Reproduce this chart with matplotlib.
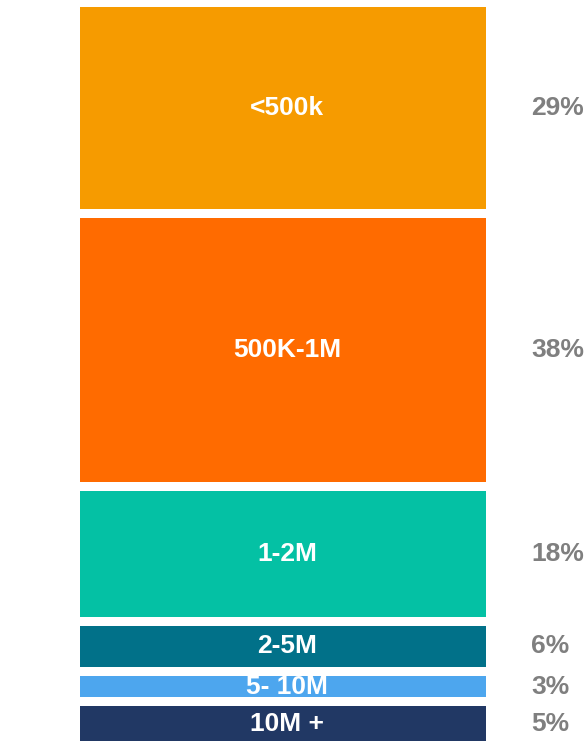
import matplotlib
matplotlib.use("Agg")
import matplotlib.pyplot as plt

plt.rcParams['font.family'] = ['Liberation Sans', 'DejaVu Sans']

# Share of listings by price band
bands = ['<500k', '500K-1M', '1-2M', '2-5M', '5- 10M', '10M +']
shares = [29, 38, 18, 6, 3, 5]
colors = ['#F69B00', '#FF6B00', '#04C1A4', '#017189', '#4DA6EE', '#213864']

gap = 1.29  # white space between blocks, in percent units

fig = plt.figure(figsize=(5.87, 7.41), dpi=100)
ax = fig.add_axes([80 / 587, 0, 406 / 587, 734 / 741])

bottom = 0
for band, share, color in zip(bands, shares, colors):
    ax.bar(0, share, bottom=bottom, width=1, color=color, edgecolor='none')
    mid = bottom + share / 2
    ax.text(0.01, mid, band, ha='center', va='center', color='white',
            fontsize=19, fontweight='bold')
    ax.text(1.111, mid, f'{share}%', transform=ax.get_yaxis_transform(),
            ha='left', va='center', color='#7F7F7F', fontsize=19,
            fontweight='bold', clip_on=False)
    bottom += share + gap

ax.set_xlim(-0.5, 0.5)
ax.set_ylim(bottom - gap, 0)
ax.axis('off')

fig.savefig('out.png', dpi=100)
